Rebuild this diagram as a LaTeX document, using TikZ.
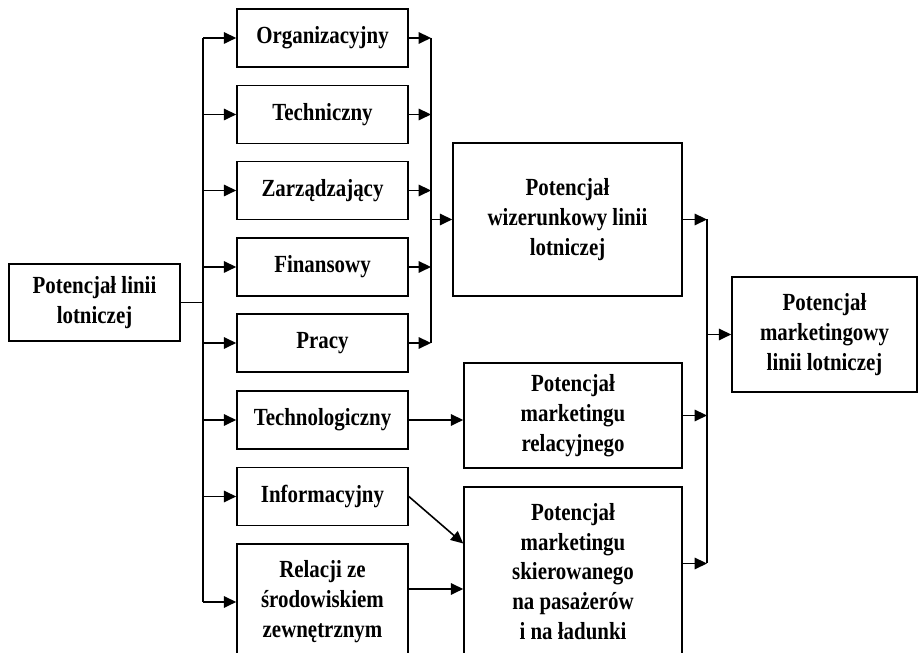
\documentclass[tikz,border=0pt]{standalone}
\usepackage{fontspec}
\setmainfont{Liberation Serif}[FakeStretch=0.85]
\usetikzlibrary{arrows.meta,positioning}

\begin{document}
\begin{tikzpicture}[font=\fontsize{14}{17}\selectfont\bfseries,>={Triangle[length=7pt,width=6.5pt]},
  box/.style={draw,line width=0.9pt,align=center,minimum width=3.42cm,minimum height=1.16cm,inner sep=2pt},
  link/.style={->,line width=0.9pt}]
  \clip (0,0) rectangle (18.38,13.06);
  % zrodlo
  \node[box,minimum height=1.54cm] (main) at (1.89,7.01) {Potencjał linii\\lotniczej};
  % skladowe
  \node[box] (org) at (6.45,12.30) {Organizacyjny};
  \node[box] (tech) at (6.45,10.77) {Techniczny};
  \node[box] (zarz) at (6.45,9.25) {Zarządzający};
  \node[box] (fin) at (6.45,7.72) {Finansowy};
  \node[box] (pracy) at (6.45,6.20) {Pracy};
  \node[box] (technol) at (6.45,4.66) {Technologiczny};
  \node[box] (info) at (6.45,3.13) {Informacyjny};
  \node[box,minimum height=2.32cm] (rel) at (6.45,1.02) {Relacji ze\\środowiskiem\\zewnętrznym};
  % potencjaly posrednie
  \node[box,minimum width=4.58cm,minimum height=3.06cm] (wiz) at (11.35,8.67) {Potencjał\\wizerunkowy linii\\lotniczej};
  \node[box,minimum width=4.36cm,minimum height=2.10cm] (relac) at (11.46,4.75) {Potencjał\\marketingu\\relacyjnego};
  \node[box,minimum width=4.36cm,minimum height=3.38cm] (skier) at (11.46,1.63) {Potencjał\\marketingu\\skierowanego\\na pasażerów\\i na ładunki};
  % wynik
  \node[box,minimum width=3.70cm,minimum height=2.30cm] (final) at (16.49,6.37) {Potencjał\\marketingowy\\linii lotniczej};

  % szyny
  \coordinate (busL) at (4.06,0);
  \coordinate (busA) at (8.62,0);
  \coordinate (busB) at (14.14,0);

  \draw[line width=0.9pt] (main.east) -- (main.east -| busL);
  \draw[line width=0.9pt] (busL |- org.west) -- (busL |- rel.west);
  \foreach \n in {org,tech,zarz,fin,pracy,technol,info,rel}
    \draw[link] (busL |- \n.west) -- (\n.west);

  \foreach \n in {org,tech,zarz,fin,pracy}
    \draw[link] (\n.east) -- (\n.east -| busA);
  \draw[line width=0.9pt] (busA |- org.east) -- (busA |- pracy.east);
  \draw[link] (busA |- wiz.west) -- (wiz.west);

  \draw[link] (technol.east) -- (technol.east -| relac.west);
  \draw[link] (info.east) -- ([yshift=0.56cm]skier.west);
  \draw[link] ([yshift=0.26cm]rel.east) -- ([yshift=0.26cm]rel.east -| skier.west);

  \draw[link] (wiz.east) -- (wiz.east -| busB);
  \draw[link] (relac.east) -- (relac.east -| busB);
  \draw[link] ([yshift=0.16cm]skier.east) -- ([yshift=0.16cm]skier.east -| busB);
  \draw[line width=0.9pt] (busB |- wiz.east) -- ([yshift=0.16cm]busB |- skier.east);
  \draw[link] (busB |- final.west) -- (final.west);
\end{tikzpicture}
\end{document}
